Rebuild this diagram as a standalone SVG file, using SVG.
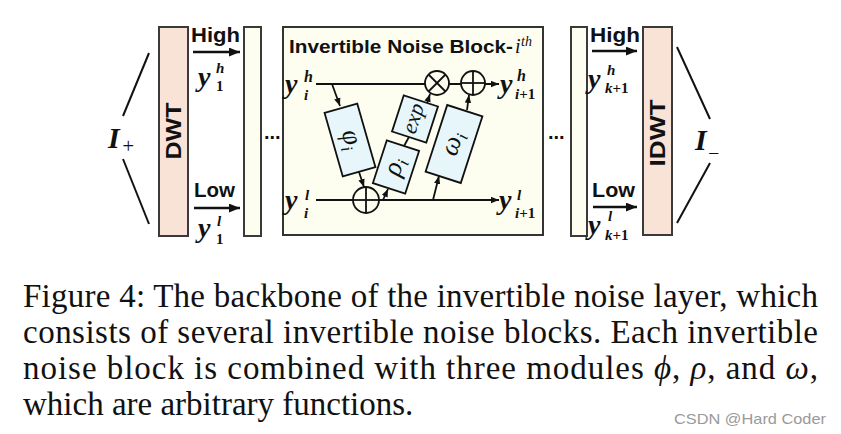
<svg xmlns="http://www.w3.org/2000/svg" width="841" height="434" viewBox="0 0 841 434">
<defs>
<style>
.dwt{fill:#f9e2d6;stroke:#3a3a3a;stroke-width:2}
.mid{fill:#fdfdf0;stroke:#3a3a3a;stroke-width:2}
.blk{fill:#fdfdf0;stroke:#333;stroke-width:2}
.mod{fill:#e6f6fb;stroke:#111;stroke-width:1.8}
.ln{stroke:#111;stroke-width:1.8;fill:none}
.lnb{stroke:#111;stroke-width:2.6;fill:none}
.op{fill:#fdfdf0;stroke:#111;stroke-width:1.8}
.sans{font-family:"Liberation Sans",Arial,sans-serif;font-weight:bold;fill:#111}
.m{font-family:"Liberation Serif","Times New Roman",serif;font-style:italic;font-weight:bold;fill:#111}
.mi{font-family:"Liberation Serif","Times New Roman",serif;font-style:italic;fill:#111}
.cap{font-family:"Liberation Serif","Times New Roman",serif;font-size:33px;fill:#111}
</style>
<marker id="ah" viewBox="0 0 10 8" refX="10" refY="4" markerWidth="8" markerHeight="7" markerUnits="userSpaceOnUse" orient="auto"><path d="M0,0 L10,4 L0,8 z" fill="#111"/></marker>
<marker id="ahb" viewBox="0 0 10 8" refX="10" refY="4" markerWidth="11" markerHeight="9" markerUnits="userSpaceOnUse" orient="auto"><path d="M0,0 L10,4 L0,8 z" fill="#111"/></marker>
</defs>
<rect width="841" height="434" fill="#ffffff"/>

<g id="input">
<line class="ln" x1="149" y1="53" x2="123" y2="116" style="stroke-width:2"/>
<line class="ln" x1="123" y1="159" x2="149" y2="224" style="stroke-width:2"/>
<text class="m" x="108" y="148" font-size="30">I</text>
<text class="mi" x="121" y="153" font-size="21">+</text>
</g>

<g id="dwt">
<rect class="dwt" x="159" y="27" width="29" height="209"/>
<text class="sans" font-size="22" text-anchor="middle" transform="translate(181,131) rotate(-90)" textLength="57" lengthAdjust="spacingAndGlyphs">DWT</text>
</g>

<g id="bar-left">
<rect class="mid" x="244" y="27" width="17" height="209"/>
</g>

<g id="labels-left">
<text class="sans" x="191" y="42" font-size="21" textLength="49" lengthAdjust="spacingAndGlyphs">High</text>
<text class="m" x="198" y="86" font-size="28">y</text>
<text class="m" x="216" y="73" font-size="15">h</text>
<text class="m" x="216" y="91" font-size="15" style="font-style:normal">1</text>
<text class="sans" x="194" y="197" font-size="21" textLength="41" lengthAdjust="spacingAndGlyphs">Low</text>
<text class="m" x="198" y="237" font-size="28">y</text>
<text class="m" x="217" y="226" font-size="15">l</text>
<text class="m" x="216" y="244" font-size="15" style="font-style:normal">1</text>
</g>

<g id="dots-left"><text class="sans" x="264" y="139" font-size="20">...</text></g>

<g id="block">
<rect class="blk" x="283" y="27" width="260" height="208"/>
<text class="sans" x="289" y="53" font-size="19" textLength="224" lengthAdjust="spacingAndGlyphs">Invertible Noise Block-</text>
<text class="mi" x="515" y="53" font-size="20">i</text>
<text class="mi" x="521" y="46" font-size="14">th</text>
<text class="m" x="285" y="93" font-size="28">y</text>
<text class="m" x="304" y="82" font-size="16">h</text>
<text class="m" x="304" y="100" font-size="15">i</text>
<text class="m" x="285" y="209" font-size="28">y</text>
<text class="m" x="305" y="200" font-size="15">l</text>
<text class="m" x="304" y="218" font-size="15">i</text>
<text class="m" x="500" y="93" font-size="28">y</text>
<text class="m" x="517" y="81" font-size="16">h</text>
<text class="m" x="515" y="99" font-size="15">i<tspan style="font-style:normal">+1</tspan></text>
<text class="m" x="499" y="209" font-size="28">y</text>
<text class="m" x="517" y="200" font-size="15">l</text>
<text class="m" x="515" y="218" font-size="15">i<tspan style="font-style:normal">+1</tspan></text>
</g>

<g id="connectors">
<line class="ln" x1="316" y1="84" x2="499" y2="84" marker-end="url(#ah)"/>
<line class="ln" x1="316" y1="200" x2="499" y2="200" marker-end="url(#ah)"/>
<line class="ln" x1="332" y1="84" x2="340" y2="106" marker-end="url(#ah)"/>
<line class="ln" x1="359" y1="172" x2="364" y2="187" marker-end="url(#ah)"/>
<line class="ln" x1="383" y1="200" x2="388" y2="189" marker-end="url(#ah)"/>
<line class="ln" x1="404" y1="146" x2="409" y2="137"/>
<line class="ln" x1="427" y1="103" x2="430" y2="94" marker-end="url(#ah)"/>
<line class="ln" x1="467" y1="110" x2="469" y2="95" marker-end="url(#ah)"/>
<line class="ln" x1="433" y1="200" x2="439" y2="176" marker-end="url(#ah)"/>
<line class="lnb" x1="193" y1="52" x2="240" y2="52" marker-end="url(#ahb)"/>
<line class="lnb" x1="194" y1="208" x2="240" y2="208" marker-end="url(#ahb)"/>
<line class="lnb" x1="592" y1="51" x2="637" y2="51" marker-end="url(#ahb)"/>
<line class="lnb" x1="593" y1="207" x2="637" y2="207" marker-end="url(#ahb)"/>
</g>

<g id="phi">
<rect class="mod" x="-17" y="-33" width="34" height="66" transform="translate(350,140) rotate(-16)"/>
<text class="mi" font-size="27" text-anchor="middle" transform="translate(350,140) rotate(74)" y="6">φ<tspan font-size="17" dy="5">i</tspan></text>
</g>
<g id="rho">
<rect class="mod" x="-17" y="-22.5" width="34" height="45" transform="translate(396,167) rotate(18)"/>
<text class="mi" font-size="27" text-anchor="middle" transform="translate(396,167) rotate(-72)" y="6">ρ<tspan font-size="17" dy="5">i</tspan></text>
</g>
<g id="exp">
<rect class="mod" x="-18" y="-19" width="36" height="38" transform="translate(415,119) rotate(18)"/>
<text class="mi" font-size="22" text-anchor="middle" transform="translate(415,119) rotate(-72)" y="5">exp</text>
</g>
<g id="omega">
<rect class="mod" x="-18.5" y="-35" width="37" height="70" transform="translate(454,144) rotate(18)"/>
<text class="mi" font-size="27" text-anchor="middle" transform="translate(454,144) rotate(-72)" y="6">ω<tspan font-size="17" dy="5">i</tspan></text>
</g>

<g id="op-mul">
<circle class="op" cx="437" cy="83" r="12"/>
<line class="ln" x1="428.5" y1="74.5" x2="445.5" y2="91.5"/>
<line class="ln" x1="445.5" y1="74.5" x2="428.5" y2="91.5"/>
</g>
<g id="op-add-top">
<circle class="op" cx="473" cy="83" r="12"/>
<line class="ln" x1="461" y1="83" x2="485" y2="83"/>
<line class="ln" x1="473" y1="71" x2="473" y2="95"/>
</g>
<g id="op-add-bot">
<circle class="op" cx="366" cy="200" r="13"/>
<line class="ln" x1="353" y1="200" x2="379" y2="200"/>
<line class="ln" x1="366" y1="187" x2="366" y2="213"/>
</g>

<g id="dots-right"><text class="sans" x="548" y="139" font-size="20">...</text></g>

<g id="bar-right">
<rect class="mid" x="571" y="27" width="16" height="209"/>
</g>

<g id="labels-right">
<text class="sans" x="590" y="42" font-size="21" textLength="50" lengthAdjust="spacingAndGlyphs">High</text>
<text class="m" x="588" y="88" font-size="28">y</text>
<text class="m" x="607" y="75" font-size="15">h</text>
<text class="m" x="605" y="93" font-size="15">k<tspan style="font-style:normal">+1</tspan></text>
<text class="sans" x="592" y="197" font-size="21" textLength="43" lengthAdjust="spacingAndGlyphs">Low</text>
<text class="m" x="588" y="234" font-size="28">y</text>
<text class="m" x="608" y="221" font-size="15">l</text>
<text class="m" x="605" y="240" font-size="15">k<tspan style="font-style:normal">+1</tspan></text>
</g>

<g id="idwt">
<rect class="dwt" x="643" y="27" width="29" height="208"/>
<text class="sans" font-size="22" text-anchor="middle" transform="translate(665,133) rotate(-90)" textLength="67" lengthAdjust="spacingAndGlyphs">IDWT</text>
</g>

<g id="output">
<line class="ln" x1="677" y1="47" x2="710" y2="119" style="stroke-width:2"/>
<line class="ln" x1="710" y1="163" x2="677" y2="223" style="stroke-width:2"/>
<text class="m" x="695" y="150" font-size="30">I</text>
<text class="mi" x="707" y="160" font-size="20">−</text>
</g>

<g id="caption">
<text class="cap" x="23" y="307" textLength="795" lengthAdjust="spacing">Figure 4: The backbone of the invertible noise layer, which</text>
<text class="cap" x="23" y="343" textLength="795" lengthAdjust="spacing">consists of several invertible noise blocks. Each invertible</text>
<text class="cap" x="23" y="379" textLength="795" lengthAdjust="spacing">noise block is combined with three modules <tspan font-style="italic">ϕ</tspan>, <tspan font-style="italic">ρ</tspan>, and <tspan font-style="italic">ω</tspan>,</text>
<text class="cap" x="23" y="415">which are arbitrary functions.</text>
<text x="826" y="424" text-anchor="end" font-family="'Liberation Sans',Arial,sans-serif" font-size="15" fill="#9a9a9a" textLength="152" lengthAdjust="spacingAndGlyphs">CSDN @Hard Coder</text>
</g>
</svg>
